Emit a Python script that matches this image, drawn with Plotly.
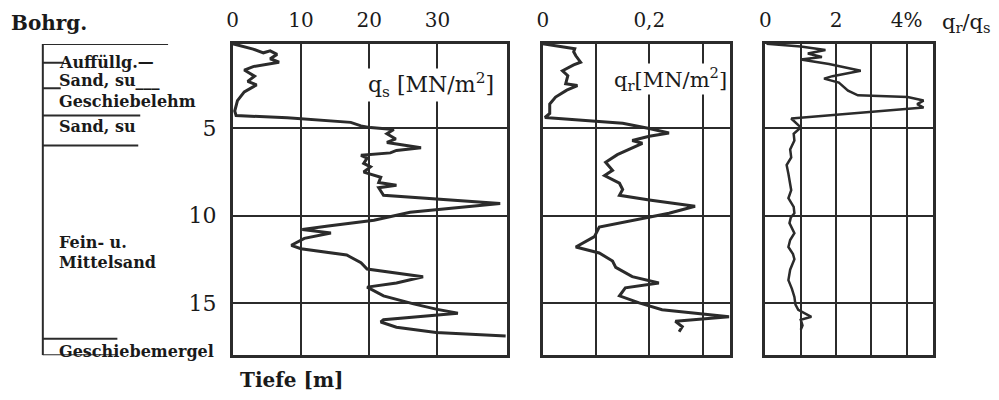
import plotly.graph_objects as go

# ---------------- data ----------------
qs_depth = [0.14, 0.45, 0.66, 0.55, 0.75, 1.0, 1.2, 1.45, 1.65, 2.0, 2.3, 2.5, 2.9, 3.4, 4.0, 4.26,
            4.38, 4.5, 4.65, 4.85, 4.95, 5.06, 5.3, 5.6, 5.8, 6.1, 6.26, 6.4, 6.54, 6.7, 7.0, 7.2,
            7.5, 7.8, 8.1, 8.26, 8.4, 8.83, 9.05, 9.3, 9.8, 10.26, 10.6, 10.8, 11.0, 11.3, 11.7,
            11.9, 12.26, 12.7, 13.06, 13.3, 13.5, 13.86, 14.1, 14.6, 15.06, 15.36, 15.6, 15.97,
            16.1, 16.4, 16.7, 16.9]
qs_val = [0.0, 3.0, 4.5, 5.5, 6.5, 5.5, 6.8, 3.0, 1.7, 3.2, 2.2, 3.5, 1.7, 0.7, 0.3, 0.5,
          8.0, 12.5, 17.3, 18.8, 20.2, 23.6, 22.6, 23.9, 22.6, 27.6, 24.0, 23.1, 18.8, 19.7, 19.2, 20.2,
          19.2, 21.7, 21.4, 24.0, 21.4, 22.1, 30.0, 39.2, 26.0, 20.7, 14.0, 10.2, 14.4, 10.5, 8.6,
          10.0, 16.7, 18.8, 19.7, 24.0, 27.9, 24.0, 19.7, 22.1, 26.5, 29.8, 33.0, 22.1,
          21.7, 24.0, 29.8, 40.0]

qr_depth = [0.14, 0.43, 0.6, 0.83, 1.2, 1.35, 1.69, 1.97, 2.43, 2.54, 2.8, 3.2, 3.6, 4.14, 4.37,
            4.55, 4.7, 5.0, 5.26, 5.45, 5.69, 5.85, 6.1, 6.5, 6.94, 7.4, 7.7, 8.14, 8.5, 8.83,
            9.1, 9.46, 9.86, 10.26, 10.66, 11.2, 11.8, 12.14, 12.6, 12.97, 13.5, 13.86, 14.14,
            14.6, 15.0, 15.4, 15.8, 16.06, 16.37, 16.66]
qr_val = [0.0, 0.06, 0.058, 0.062, 0.071, 0.058, 0.037, 0.047, 0.043, 0.065, 0.045, 0.024, 0.013, 0.013, 0.004,
          0.08, 0.15, 0.2, 0.237, 0.2, 0.168, 0.187, 0.168, 0.14, 0.118, 0.131, 0.116, 0.144, 0.15, 0.144,
          0.2, 0.286, 0.237, 0.168, 0.106, 0.097, 0.062, 0.106, 0.131, 0.137, 0.168, 0.218, 0.155,
          0.144, 0.181, 0.224, 0.35, 0.249, 0.262, 0.256]

ratio_depth = [0.14, 0.3, 0.5, 0.7, 0.9, 1.05, 1.3, 1.69, 2.0, 2.14, 2.37, 2.83, 3.1, 3.2, 3.4, 3.6, 3.8,
               4.43, 4.94, 5.3, 5.69, 6.2, 6.66, 7.1, 7.6, 8.1, 8.54, 9.0, 9.5, 9.86, 10.1, 10.43,
               11.0, 11.4, 11.8, 12.2, 12.5, 13.1, 13.7, 14.2, 14.66, 15.1, 15.4, 15.8, 15.97, 16.3, 16.54]
ratio_val = [0.03, 1.0, 1.7, 1.2, 1.6, 1.0, 1.8, 2.7, 1.9, 1.66, 2.08, 2.34, 2.62, 4.03, 4.48, 4.3, 4.48,
             0.73, 1.0, 0.8, 0.82, 0.7, 0.73, 0.6, 0.65, 0.7, 0.73, 0.65, 0.8, 0.82, 0.72, 0.68,
             0.82, 0.7, 0.65, 0.78, 0.82, 0.7, 0.65, 0.75, 0.82, 0.85, 0.93, 1.3, 1.0, 1.05, 1.0]

depth_ticks = [5, 10, 15]
qs_ticks = [0, 10, 20, 30]
qs_ticktext = ["0", "10", "20", "30"]
qr_ticks = [0, 0.2]
qr_ticktext = ["0", "0,2"]
qr_grid_step = 0.1
ratio_ticks = [0, 2, 4]
ratio_ticktext = ["0", "2", "4%"]
ratio_grid_step = 1

layer_bounds = [0.15, 1.23, 2.7, 4.26, 5.97, 17.06, 18.0]
layer_names = ["Auffüllg.—", "Sand, su___", "Geschiebelehm", "Sand, su",
               "Fein- u.", "Mittelsand", "Geschiebemergel"]

# ---------------- style ----------------
W, H = 999, 400
OFF = 8  # page body margin
INK = "#2b2b2b"
TXT = "#1a1a1a"
SERIF = "DejaVu Serif"


def px(x):
    return (x - OFF) / W


def py(y):
    return 1 - (y - OFF) / H


ytop, ybot = 43, 355
DEPTH_RANGE = [18.0, 0.15]

fig = go.Figure()
fig.add_trace(go.Scatter(x=qs_val, y=qs_depth, xaxis="x", yaxis="y", mode="lines",
                         line=dict(color=INK, width=3), showlegend=False))
fig.add_trace(go.Scatter(x=qr_val, y=qr_depth, xaxis="x2", yaxis="y2", mode="lines",
                         line=dict(color=INK, width=3), showlegend=False))
fig.add_trace(go.Scatter(x=ratio_val, y=ratio_depth, xaxis="x3", yaxis="y3", mode="lines",
                         line=dict(color=INK, width=2.5), showlegend=False))

common_x = dict(side="top", showline=True, mirror=True, linecolor=INK, linewidth=2.5,
                showgrid=True, gridcolor=INK, gridwidth=2, zeroline=False,
                ticks="outside", ticklen=6, tickcolor="rgba(0,0,0,0)",
                tickfont=dict(family=SERIF, size=20, color=TXT))
common_y = dict(range=DEPTH_RANGE, showline=True, mirror=True, linecolor=INK, linewidth=2.5,
                showgrid=True, gridcolor=INK, gridwidth=2, zeroline=False,
                tickvals=depth_ticks,
                domain=[py(ybot), py(ytop)])
minor_grid = dict(tick0=0, showgrid=True, gridcolor=INK, gridwidth=2, ticks="")

fig.update_layout(
    width=W, height=H, margin=dict(l=0, r=0, t=0, b=0),
    paper_bgcolor="white", plot_bgcolor="white",
    xaxis=dict(common_x, domain=[px(228), px(504)], range=[0, 40.2], anchor="y",
               tickvals=qs_ticks, ticktext=qs_ticktext),
    xaxis2=dict(common_x, domain=[px(540), px(728)], range=[0, 0.351], anchor="y2",
                tickvals=qr_ticks, ticktext=qr_ticktext,
                minor=dict(minor_grid, dtick=qr_grid_step)),
    xaxis3=dict(common_x, domain=[px(764), px(933)], range=[0, 4.76], anchor="y3",
                tickvals=ratio_ticks, ticktext=ratio_ticktext,
                minor=dict(minor_grid, dtick=ratio_grid_step)),
    yaxis=dict(common_y, anchor="x", ticks="outside", ticklen=9, tickcolor="rgba(0,0,0,0)",
               tickfont=dict(family=SERIF, size=22, color=TXT)),
    yaxis2=dict(common_y, anchor="x2", showticklabels=False),
    yaxis3=dict(common_y, anchor="x3", showticklabels=False),
)


def label(x, y, text, size, xanchor="center", bg=None):
    fig.add_annotation(x=px(x), y=py(y), xref="paper", yref="paper",
                       xanchor=xanchor, yanchor="middle", text=text, showarrow=False,
                       font=dict(family=SERIF, size=size, color=TXT),
                       bgcolor=bg if bg else "rgba(0,0,0,0)", borderpad=0)


# panel labels
label(428, 84, "q<sub>s</sub> [MN/m<sup>2</sup>]", 22, bg="white")
label(668, 78, "q<sub>r</sub>[MN/m<sup>2</sup>]", 21, bg="white")
label(966, 22, "q<sub>r</sub>/q<sub>s</sub>", 21)
label(4, 22, "<b>Bohrg.</b>", 20, xanchor="left")
label(234, 380, "<b>Tiefe [m]</b>", 20, xanchor="left")

# borehole column
col_x0 = px(37)
bound_ends = [163, 58, 55, 135, 133, 112, 112]
fig.add_shape(type="line", xref="paper", yref="y", x0=col_x0, x1=col_x0,
              y0=layer_bounds[0], y1=layer_bounds[-1], line=dict(color=INK, width=2))
for d, xe in zip(layer_bounds, bound_ends):
    fig.add_shape(type="line", xref="paper", yref="y", x0=col_x0, x1=px(xe),
                  y0=d, y1=d, line=dict(color=INK, width=2))

name_pos = [(52, 62), (52, 80), (52, 101), (52, 126), (52, 242), (52, 262), (52, 351)]
for name, (lx, ly) in zip(layer_names, name_pos):
    label(lx, ly, "<b>" + name + "</b>", 16, xanchor="left")

fig.write_html("out.html")
